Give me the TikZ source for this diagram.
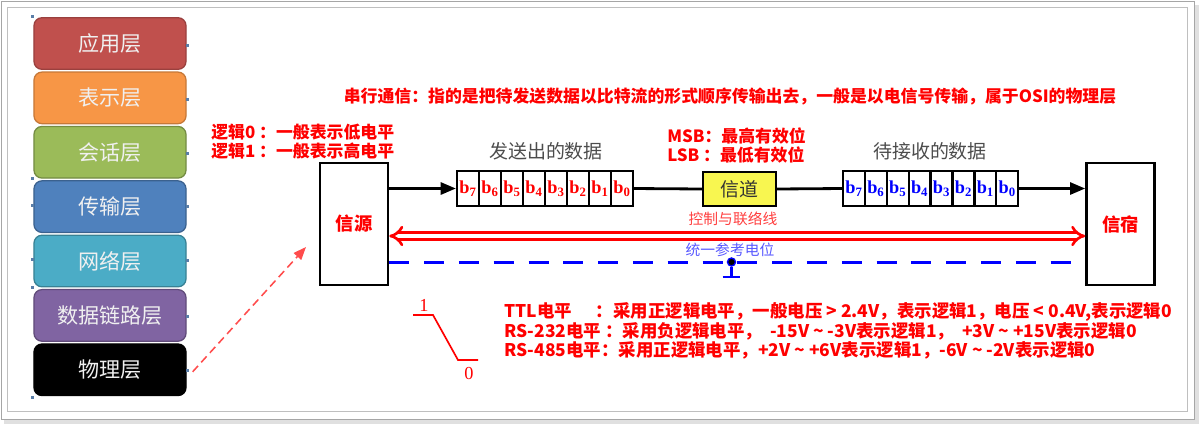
\documentclass[tikz,border=0pt]{standalone}
\usepackage{fontspec}
\setmainfont{Liberation Serif}
\newfontfamily\cjk{Noto Sans CJK SC}
\usepackage{tikz}
\usetikzlibrary{arrows.meta,positioning}

\definecolor{appred}{HTML}{C0504D}
\definecolor{preorange}{HTML}{F79646}
\definecolor{sesgreen}{HTML}{9BBB59}
\definecolor{trablue}{HTML}{4F81BD}
\definecolor{netteal}{HTML}{4BACC6}
\definecolor{linkpurple}{HTML}{8064A2}
\definecolor{chanyellow}{HTML}{F8F650}
\definecolor{handleblue}{HTML}{5A7EA8}

\begin{document}
\begin{tikzpicture}[x=0.025cm, y=-0.025cm,
  layer/.style={rounded corners=0.2cm, minimum width=3.8cm, minimum height=1.29cm,
    line width=0.9pt, text=white!94!black, font=\cjk\fontsize{15}{15}\selectfont},
  bitcell/.style={draw, line width=1.6pt, fill=white, minimum width=0.55cm,
    minimum height=0.875cm, inner sep=0pt, font=\fontsize{13}{13}\selectfont},
  endbox/.style={draw, line width=1.8pt, fill=white, minimum width=1.7cm,
    minimum height=3.05cm, text=red, font=\cjk\bfseries\fontsize{13}{13}\selectfont},
  note/.style={text=red, inner sep=0pt, align=left,
    font=\cjk\bfseries\fontsize{12}{13.5}\selectfont},
  caption/.style={text=black!70, inner sep=0pt, font=\cjk\fontsize{13.5}{13.5}\selectfont},
  thin/.style={inner sep=0pt, font=\cjk\fontsize{10.5}{10.5}\selectfont}]
  \useasboundingbox (0,0) rectangle (1199,424);
  % Frame
  \fill[black!12] (4,5) rectangle (1199,424);
  \draw[black!35, fill=white] (1,1) rectangle (1194,419);
  \draw[black!25] (7,7) rectangle (1187,411);
  % OSI layers
  \node[layer, fill=appred, draw=appred!80!black] (app) at (110,43.5) {应用层};
  \node[layer, fill=preorange, draw=preorange!80!black, below=0.0375cm of app] (pre) {表示层};
  \node[layer, fill=sesgreen, draw=sesgreen!75!black, below=0.0375cm of pre] (ses) {会话层};
  \node[layer, fill=trablue, draw=trablue!75!black, below=0.0375cm of ses] (tra) {传输层};
  \node[layer, fill=netteal, draw=netteal!75!black, below=0.0375cm of tra] (net) {网络层};
  \node[layer, fill=linkpurple, draw=linkpurple!75!black, below=0.0375cm of net] (lnk) {数据链路层};
  \node[layer, fill=black, draw=black, below=0.0375cm of lnk] (phy) {物理层};
  \foreach \y in {44,98,152,205,259,315,369}
    \fill[handleblue] (186,\y) rectangle +(3,3);
  \foreach \y in {15,177,204,258,286,396}
    \fill[handleblue] (31,\y) rectangle +(3,3);
  % Title and notes
  \node[note, font=\cjk\bfseries\fontsize{12}{12}\selectfont] (title) at (730,97)
    {串行通信：指的是把待发送数据以比特流的形式顺序传输出去，一般是以电信号传输，属于OSI的物理层};
  \node[note, anchor=west] (logic) at (211,142) {逻辑0 ：一般表示低电平\\逻辑1 ：一般表示高电平};
  \node[note, anchor=west] (msb) at (667,145) {MSB：最高有效位\\LSB ：最低有效位};
  % Source, channel, sink
  \node[endbox] (src) at (354,224) {信源};
  \node[endbox] (dst) at (1120.5,224) {信宿};
  \node[draw, line width=1.6pt, fill=chanyellow, minimum width=1.825cm, minimum height=0.85cm,
    text=black!80, font=\cjk\fontsize{13.5}{13.5}\selectfont] (chan) at (739.5,189) {信道};
  % Bit registers
  \foreach \k in {0,...,7} {
    \pgfmathtruncatemacro\b{7-\k}
    \node[bitcell, text=red] (s\b) at (468+22*\k,188.5) {$\mathbf{b_{\b}}$};
    \node[bitcell, text=blue] (r\b) at (854+21.9*\k,188.5) {$\mathbf{b_{\b}}$};
  }
  \node[caption] (sendcap) at (546,151) {发送出的数据};
  \node[caption] (recvcap) at (930,151) {待接收的数据};
  % Data path
  \draw[line width=2pt, -{Triangle[length=0.38cm,width=0.3cm]}] (s7.west -| src.east) -- (s7.west);
  \draw[line width=2pt] (s0.east) -- (chan.west);
  \draw[line width=2pt] (chan.east) -- (r7.west);
  \draw[line width=2pt, -{Triangle[length=0.38cm,width=0.3cm]}] (r0.east) -- (r0.east -| dst.west);
  % Control line
  \draw[red, double=white, line width=1.9pt, double distance=0.1cm, {Implies}-{Implies}]
    (src.east |- 0,236) -- (dst.west |- 0,236);
  \node[thin, text=red!75] (ctl) at (733,219) {控制与联络线};
  % Reference potential
  \draw[blue, line width=0.075cm, dash pattern=on 0.5cm off 0.37cm] (src.east |- 0,262) -- (dst.west |- 0,262);
  \node[thin, text=blue!65] (ref) at (730,250) {统一参考电位};
  \node[circle, fill=black, draw=blue, line width=1pt, inner sep=0pt, minimum size=0.2cm] (gnd) at (731.5,262) {};
  \draw[blue, line width=0.07cm] (gnd) -- ++(0,15) coordinate (gbot);
  \draw[blue, line width=0.07cm] ([xshift=-0.22cm]gbot) -- ([xshift=0.22cm]gbot);
  % Physical layer pointer
  \coordinate (aim) at (306,247);
  \draw[red!70, line width=1.1pt, dash pattern=on 0.2cm off 0.12cm, -{Triangle[length=0.32cm,width=0.25cm]}]
    ([shift={(0.15cm,-0.05cm)}]phy.east) -- (aim);
  % Level step
  \draw[red, line width=1.2pt] (413,315) -- (433,315) -- (458,360) -- (478,360);
  \node[text=red, inner sep=0pt, font=\fontsize{13}{13}\selectfont] (one) at (424,305) {1};
  \node[text=red, inner sep=0pt, font=\fontsize{13}{13}\selectfont] (zero) at (469,373) {0};
  % Levels
  \node[note, anchor=west, font=\cjk\bfseries\fontsize{12.4}{12.4}\selectfont] (ttl) at (504,312)
    {TTL电平\hspace{0.6cm}：采用正逻辑电平，一般电压 > 2.4V，表示逻辑1，电压 < 0.4V,表示逻辑0};
  \node[note, anchor=west, font=\cjk\bfseries\fontsize{12.4}{12.4}\selectfont] (rsa) at (504,331)
    {RS-232电平 ：采用负逻辑电平，\ \ -15V \textasciitilde{} -3V表示逻辑1，\ \ +3V \textasciitilde{} +15V表示逻辑0};
  \node[note, anchor=west, font=\cjk\bfseries\fontsize{12.4}{12.4}\selectfont] (rsb) at (504,350)
    {RS-485电平：采用正逻辑电平，+2V \textasciitilde{} +6V表示逻辑1，-6V \textasciitilde{} -2V表示逻辑0};
\end{tikzpicture}
\end{document}
